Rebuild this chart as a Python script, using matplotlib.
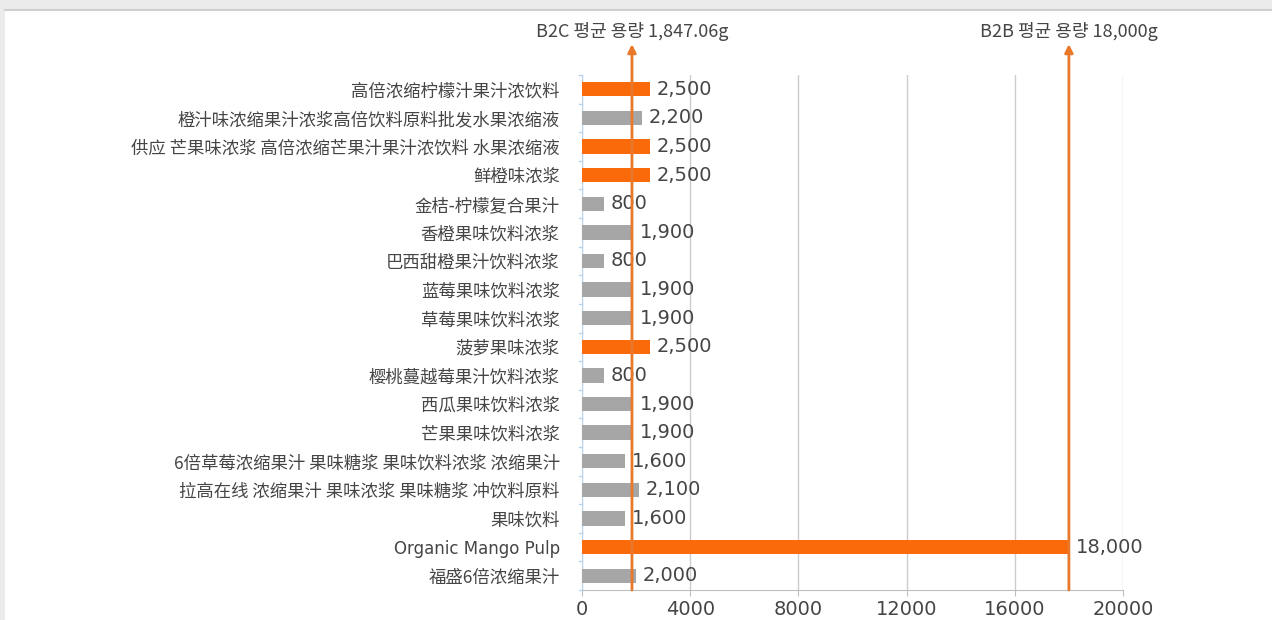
import matplotlib.pyplot as plt
from matplotlib.patches import Rectangle
import numpy as np

plt.rcParams['font.family'] = ['Noto Sans CJK SC', 'DejaVu Sans']

products = [
    "高倍浓缩柠檬汁果汁浓饮料",
    "橙汁味浓缩果汁浓浆高倍饮料原料批发水果浓缩液",
    "供应 芒果味浓浆 高倍浓缩芒果汁果汁浓饮料 水果浓缩液",
    "鲜橙味浓浆",
    "金桔-柠檬复合果汁",
    "香橙果味饮料浓浆",
    "巴西甜橙果汁饮料浓浆",
    "蓝莓果味饮料浓浆",
    "草莓果味饮料浓浆",
    "菠萝果味浓浆",
    "樱桃蔓越莓果汁饮料浓浆",
    "西瓜果味饮料浓浆",
    "芒果果味饮料浓浆",
    "6倍草莓浓缩果汁 果味糖浆 果味饮料浓浆 浓缩果汁",
    "拉高在线 浓缩果汁 果味浓浆 果味糖浆 冲饮料原料",
    "果味饮料",
    "Organic Mango Pulp",
    "福盛6倍浓缩果汁",
]
capacity_g = [2500, 2200, 2500, 2500, 800, 1900, 800, 1900, 1900,
              2500, 800, 1900, 1900, 1600, 2100, 1600, 18000, 2000]
highlight = [True, False, True, True, False, False, False, False, False,
             True, False, False, False, False, False, False, True, False]

b2c_avg = 1847.06
b2b_avg = 18000
b2c_label = "B2C 평균 용량 1,847.06g"
b2b_label = "B2B 평균 용량 18,000g"

ORANGE = '#FA6A0A'
GRAY = '#A6A6A6'
LINE = '#E8782A'
TEXT = '#454545'

fig = plt.figure(figsize=(12.72, 6.2), dpi=100)
fig.patch.set_facecolor('#EBEBEB')
fig.add_artist(Rectangle((5 / 1272, 0), 1, 1 - 10 / 620, transform=fig.transFigure,
                         facecolor='white', edgecolor='none', zorder=0))
fig.add_artist(plt.Line2D([5 / 1272, 1], [1 - 10 / 620] * 2, transform=fig.transFigure,
                          color='#CFCFCF', lw=1.5))

ax = fig.add_axes([582 / 1272, 30 / 620, 541 / 1272, 515 / 620])
ax.set_facecolor('none')

y = np.arange(len(products))
colors = [ORANGE if h else GRAY for h in highlight]
ax.barh(y, capacity_g, height=0.5, color=colors, zorder=3)

for yi, v in zip(y, capacity_g):
    ax.text(v + 250, yi, f"{v:,}", va='center', ha='left', fontsize=14,
            color=TEXT, family='DejaVu Sans', zorder=4)

ax.set_xlim(0, 20000)
ax.set_ylim(len(products) - 0.5, -0.5)
ax.set_xticks(np.arange(0, 20001, 4000))
ax.set_xticklabels([str(t) for t in range(0, 20001, 4000)], fontsize=14, color=TEXT,
                   family='DejaVu Sans')
ax.set_yticks(y)
ax.set_yticklabels(products, fontsize=12.5, color=TEXT)
for lbl in ax.get_yticklabels():
    if lbl.get_text().isascii():
        lbl.set_family('DejaVu Sans')
        lbl.set_fontsize(12)
ax.tick_params(axis='y', length=0, pad=16)
ax.tick_params(axis='x', length=4, color='#BFBFBF', pad=3)
ax.xaxis.grid(True, color='#CCCCCC', lw=1, zorder=0)

for s in ['top', 'right']:
    ax.spines[s].set_visible(False)
ax.spines['left'].set_color('#B8D4EE')
ax.spines['bottom'].set_color('#BFBFBF')
# small separators on the category axis
for b in np.arange(-0.5, len(products), 1):
    ax.plot([-120, 0], [b, b], color='#B8D4EE', lw=1, clip_on=False, zorder=2)

# average reference lines with arrow heads reaching above the plot
for xv, label in [(b2c_avg, b2c_label), (b2b_avg, b2b_label)]:
    ax.annotate('', xy=(xv, 1.06), xycoords=('data', 'axes fraction'),
                xytext=(xv, 0), textcoords=('data', 'axes fraction'),
                arrowprops=dict(arrowstyle='-|>', color=LINE, lw=2, mutation_scale=12,
                                shrinkA=0, shrinkB=0), zorder=5)
    ax.text(xv, 1.085, label, transform=ax.get_xaxis_transform(), ha='center', va='center',
            fontsize=13, color=TEXT, family=['Noto Sans CJK KR', 'DejaVu Sans'])

fig.savefig('out.png', dpi=100)
